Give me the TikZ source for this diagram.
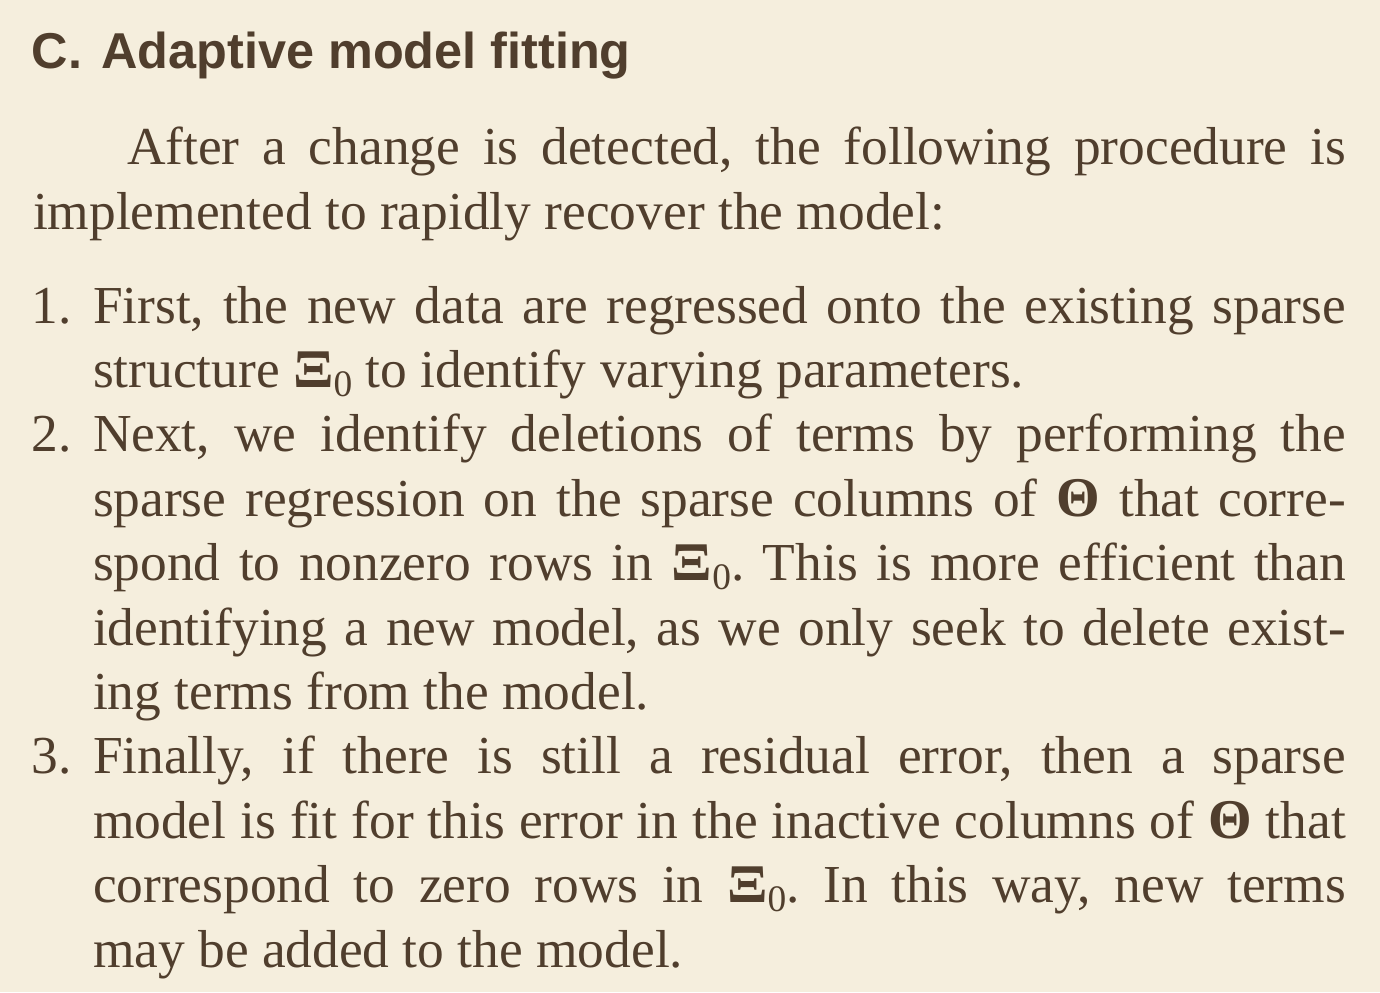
\documentclass[tikz,border=0pt]{standalone}
\usepackage{fontspec}
\setmainfont{Liberation Serif}
\newfontfamily\titlefont{Liberation Sans}
\definecolor{ink}{HTML}{503E2D}
\definecolor{paper}{HTML}{F5EEDD}
\frenchspacing
\newcommand\myXi{\scalebox{1.12}[1.02]{\bfseries Ξ}\raisebox{-0.17em}{\fontsize{18.7pt}{20pt}\selectfont 0}}
\newcommand\myTheta{\scalebox{1.05}{\bfseries Θ}}
\newcommand\jline[2]{\makebox[#1][s]{#2}}
\tikzset{
  x=0.5pt, y=-0.5pt,
  bodytxt/.style={inner sep=0pt, outer sep=0pt, anchor=base west, text=ink,
    font=\fontsize{26.7pt}{32pt}\selectfont},
  titletxt/.style={inner sep=0pt, outer sep=0pt, anchor=base west, text=ink,
    font=\titlefont\bfseries\fontsize{25.2pt}{30pt}\selectfont},
}
\begin{document}
\begin{tikzpicture}
\fill[paper] (0,0) rectangle (1380,992);
\useasboundingbox (0,0) rectangle (1380,992);
\node[titletxt] (title) at (32,68) {C.\hspace{9.5pt}Adaptive model fitting};
\node[bodytxt] (p1) at (127,164) {\jline{609.5pt}{After a change is detected, the following procedure is}};
\node[bodytxt] (p2) at (33,229) {implemented to rapidly recover the model:};
\node[bodytxt] (n1) at (32,323) {1.};
\node[bodytxt] (n2) at (32,451.8) {2.};
\node[bodytxt] (n3) at (32,773.8) {3.};
\node[bodytxt] (l0) at (93,323) {\jline{626.5pt}{First, the new data are regressed onto the existing sparse}};
\node[bodytxt] (l1) at (93,387.4) {structure \myXi\ to identify varying parameters.};
\node[bodytxt] (l2) at (93,451.8) {\jline{626.5pt}{Next, we identify deletions of terms by performing the}};
\node[bodytxt] (l3) at (93,516.2) {\jline{626.5pt}{sparse regression on the sparse columns of \myTheta\ that corre-}};
\node[bodytxt] (l4) at (93,580.6) {\jline{626.5pt}{spond to nonzero rows in \myXi. This is more efficient than}};
\node[bodytxt] (l5) at (93,645) {\jline{626.5pt}{identifying a new model, as we only seek to delete exist-}};
\node[bodytxt] (l6) at (93,709.4) {ing terms from the model.};
\node[bodytxt] (l7) at (93,773.8) {\jline{626.5pt}{Finally, if there is still a residual error, then a sparse}};
\node[bodytxt] (l8) at (93,838.2) {\jline{626.5pt}{model is fit for this error in the inactive columns of \myTheta\ that}};
\node[bodytxt] (l9) at (93,902.6) {\jline{626.5pt}{correspond to zero rows in \myXi. In this way, new terms}};
\node[bodytxt] (l10) at (93,967) {may be added to the model.};
\end{tikzpicture}
\end{document}
